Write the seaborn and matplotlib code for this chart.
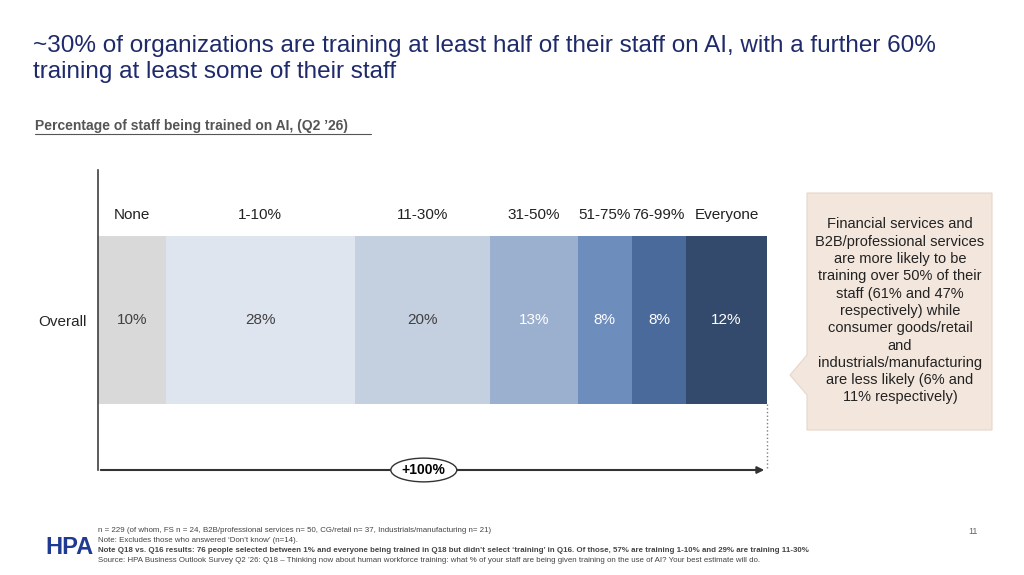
import matplotlib
matplotlib.use("Agg")
import matplotlib.pyplot as plt
from matplotlib.patches import Polygon
import seaborn as sns
import pandas as pd
import numpy as np

categories = ["None", "1-10%", "11-30%", "31-50%", "51-75%", "76-99%", "Everyone"]
values = [10, 28, 20, 13, 8, 8, 12]
colors = ["#d9d9d9", "#dfe5ef", "#c4cfe0", "#9bb0cf", "#6d8dbc", "#4a6a9b", "#344a6c"]
text_colors = ["#404040", "#404040", "#404040", "white", "white", "white", "white"]

sns.set_theme(style="white")
plt.rcParams['font.family'] = ['Liberation Sans', 'DejaVu Sans']

fig = plt.figure(figsize=(10.24, 5.75), dpi=100)
ax = fig.add_axes([98 / 1024, 1 - 470 / 575, 669 / 1024, 300 / 575])

cum = np.cumsum(values)
# draw cumulative bars back to front so each segment shows
for i in range(len(values) - 1, -1, -1):
    df = pd.DataFrame({"label": ["Overall"], "value": [cum[i]]})
    sns.barplot(data=df, x="value", y="label", color=colors[i], width=0.56,
                saturation=1, ax=ax, orient="h", edgecolor="none", linewidth=0)

ax.set_xlim(0, cum[-1])
ax.set_ylim(0.5, -0.5)
for i, (c, v) in enumerate(zip(categories, values)):
    mid = cum[i] - v / 2
    ax.text(mid, 0, f"{v}%", ha="center", va="center", fontsize=11, color=text_colors[i])
    ax.text(mid, -0.35, c, ha="center", va="center", fontsize=11, color="#222222")

ax.set_xlabel("")
ax.set_ylabel("")
ax.set_xticks([])
ax.set_yticks([0])
ax.set_yticklabels(["Overall"], fontsize=11)
ax.tick_params(axis="y", length=0, pad=8)
for s in ["top", "right", "bottom"]:
    ax.spines[s].set_visible(False)
ax.spines["left"].set_color("#404040")
ax.spines["left"].set_linewidth(1.2)

# dotted end line and arrow
ax.plot([cum[-1], cum[-1]], [0.28, 0.5], ls=":", color="#808080", lw=1, clip_on=False)
ax.annotate("", xy=(cum[-1], 0.5), xytext=(0, 0.5),
            arrowprops=dict(arrowstyle="-|>", color="#333333", lw=1.5, mutation_scale=10),
            annotation_clip=False)
ax.text(cum[-1] * 0.487, 0.5, "+100%", ha="center", va="center", fontsize=10, fontweight="bold",
        color="black", bbox=dict(boxstyle="ellipse,pad=0.1", fc="white", ec="#333333", lw=1),
        clip_on=False)

# titles
fig.text(33 / 1024, 1 - 59 / 575, "~30% of organizations are training at least half of their staff on AI, with a further 60%\ntraining at least some of their staff",
         fontsize=17.5, color="#1f2a6b", va="center", ha="left", linespacing=1.25)
fig.text(35 / 1024, 1 - 126 / 575, "Percentage of staff being trained on AI, (Q2 \u201926)",
         fontsize=10, fontweight="bold", color="#555555", va="center", ha="left")
fig.add_artist(matplotlib.lines.Line2D([35 / 1024, 371 / 1024], [1 - 134 / 575] * 2, color="#555555", lw=0.8))

# callout box
bx = [807, 992, 992, 807, 807, 790, 807]
by = [193, 193, 430, 430, 395, 375, 355]
poly = Polygon([(x / 1024, 1 - y / 575) for x, y in zip(bx, by)], closed=True,
               transform=fig.transFigure, fc="#f3e6dd", ec="#e6d6cb", lw=0.8)
fig.add_artist(poly)
fig.text(900 / 1024, 1 - 311 / 575,
         "Financial services and\nB2B/professional services\nare more likely to be\ntraining over 50% of their\nstaff (61% and 47%\nrespectively) while\nconsumer goods/retail\nand\nindustrials/manufacturing\nare less likely (6% and\n11% respectively)",
         ha="center", va="center", fontsize=10.5, color="#222222", linespacing=1.3)

# footer
fig.text(45 / 1024, 1 - 547 / 575, "HPA", fontsize=17, fontweight="bold", color="#1f3a93", ha="left", va="center")
notes = ["n = 229 (of whom, FS n = 24, B2B/professional services n= 50, CG/retail n= 37, Industrials/manufacturing n= 21)",
         "Note: Excludes those who answered \u2018Don\u2019t know\u2019 (n=14).",
         "Note Q18 vs. Q16 results: 76 people selected between 1% and everyone being trained in Q18 but didn\u2019t select \u2018training\u2019 in Q16. Of those, 57% are training 1-10% and 29% are training 11-30%",
         "Source: HPA Business Outlook Survey Q2 \u201926: Q18 \u2013 Thinking now about human workforce training: what % of your staff are being given training on the use of AI? Your best estimate will do."]
for k, n in enumerate(notes):
    fig.text(98 / 1024, 1 - (531 + k * 10) / 575, n, fontsize=5.7, color="#444444", ha="left", va="center",
             fontweight="bold" if k == 2 else "normal")
fig.text(978 / 1024, 1 - 531 / 575, "11", fontsize=6.5, color="#666666", ha="right", va="center")

fig.savefig("out.png", dpi=100)
